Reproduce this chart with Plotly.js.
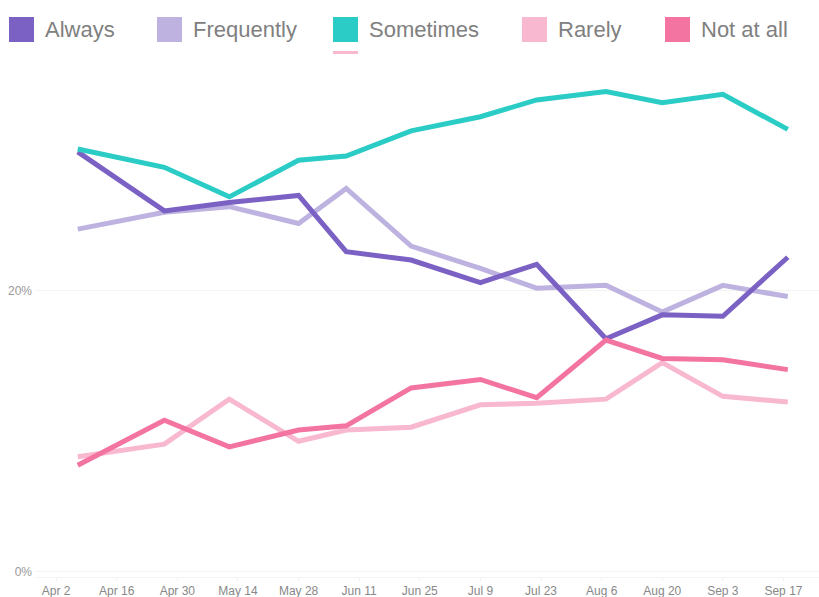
<!DOCTYPE html>
<html>
<head>
<meta charset="utf-8">
<script src="https://cdn.plot.ly/plotly-3.0.1.min.js"></script>
<style>
html,body{margin:0;padding:0;background:#fff;}
#chart{width:819px;height:597px;}
</style>
</head>
<body>
<div id="chart"></div>
<script>
// ---- data ----
var dates = ['2020-04-07','2020-04-27','2020-05-12','2020-05-28','2020-06-08','2020-06-23',
             '2020-07-09','2020-07-22','2020-08-07','2020-08-20','2020-09-03','2020-09-18'];
var seriesNames = ['Always','Frequently','Sometimes','Rarely','Not at all'];
var seriesColors = ['#7b61c4','#beb3e0','#2bccc6','#f8b8cf','#f374a1'];
var always     = [29.9, 25.7, 26.3, 26.8, 22.8, 22.2, 20.6, 21.9, 16.6, 18.3, 18.2, 22.4];
var frequently = [24.4, 25.6, 26.0, 24.8, 27.3, 23.2, 21.6, 20.2, 20.4, 18.5, 20.4, 19.6];
var sometimes  = [30.1, 28.8, 26.7, 29.3, 29.6, 31.4, 32.4, 33.6, 34.2, 33.4, 34.0, 31.5];
var rarely     = [8.2, 9.1, 12.3, 9.3, 10.1, 10.3, 11.9, 12.0, 12.3, 14.9, 12.5, 12.1];
var notAtAll   = [7.6, 10.8, 8.9, 10.1, 10.4, 13.1, 13.7, 12.4, 16.5, 15.2, 15.1, 14.4];
var yTickVals = [0, 20];
var yTickText = ['0%', '20%'];
var xTickStart = '2020-04-02';

var values = [always, frequently, sometimes, rarely, notAtAll];
var drawOrder = [1, 0, 3, 4, 2];

// ---- layout geometry ----
var W = 819, H = 597, ML = 35, MR = 0, MT = 60, MB = 20;
var PW = W - ML - MR, PH = H - MT - MB;
function px(x){ return (x - ML) / PW; }
function py(y){ return (H - MB - y) / PH; }

var traces = drawOrder.map(function(i){
  return {
    x: dates, y: values[i], name: seriesNames[i], type: 'scatter', mode: 'lines',
    line: {color: seriesColors[i], width: 5}, showlegend: false, hoverinfo: 'x+y+name'
  };
});

// custom legend with large square swatches
var legSq = [9, 157, 333, 522, 665];
var shapes = [], annotations = [];
seriesNames.forEach(function(n, i){
  shapes.push({type:'rect', xref:'paper', yref:'paper',
    x0: px(legSq[i]), x1: px(legSq[i] + 25), y0: py(42), y1: py(17),
    fillcolor: seriesColors[i], line: {width: 0}});
  annotations.push({xref:'paper', yref:'paper', x: px(legSq[i] + 34), y: py(29),
    xanchor:'left', yanchor:'middle', text: n, showarrow:false,
    font:{family:'Liberation Sans, Arial, sans-serif', size:22, color:'#808080'}});
});
shapes.push({type:'rect', xref:'paper', yref:'paper',
  x0: px(333), x1: px(358), y0: py(54), y1: py(51),
  fillcolor: seriesColors[3], line:{width:0}});

var layout = {
  width: W, height: H,
  margin: {l: ML, r: MR, t: MT, b: MB, pad: 0},
  paper_bgcolor: '#fff', plot_bgcolor: '#fff',
  showlegend: false,
  font: {family: 'Liberation Sans, Arial, sans-serif', size: 12, color: '#888'},
  xaxis: {
    type: 'date',
    range: ['2020-03-28 03:00', '2020-09-25 05:00'],
    tick0: xTickStart, dtick: 14 * 86400000,
    tickformat: '%b %-d',
    ticks: 'outside', ticklen: 3, tickcolor: '#f0f0f0',
    showgrid: false, zeroline: false,
    showline: true, linecolor: '#f3f3f3', linewidth: 1,
    tickfont: {size: 12, color: '#888'},
    fixedrange: true
  },
  yaxis: {
    range: [-0.36, 36.44],
    tickvals: yTickVals, ticktext: yTickText,
    showgrid: true, gridcolor: '#f3f3f3', gridwidth: 1,
    zeroline: false, showline: false, ticks: '',
    ticklabelstandoff: 2,
    tickfont: {size: 12, color: '#999'},
    fixedrange: true
  },
  shapes: shapes,
  annotations: annotations
};

Plotly.newPlot('chart', traces, layout, {displayModeBar: false, staticPlot: true});
</script>
</body>
</html>
